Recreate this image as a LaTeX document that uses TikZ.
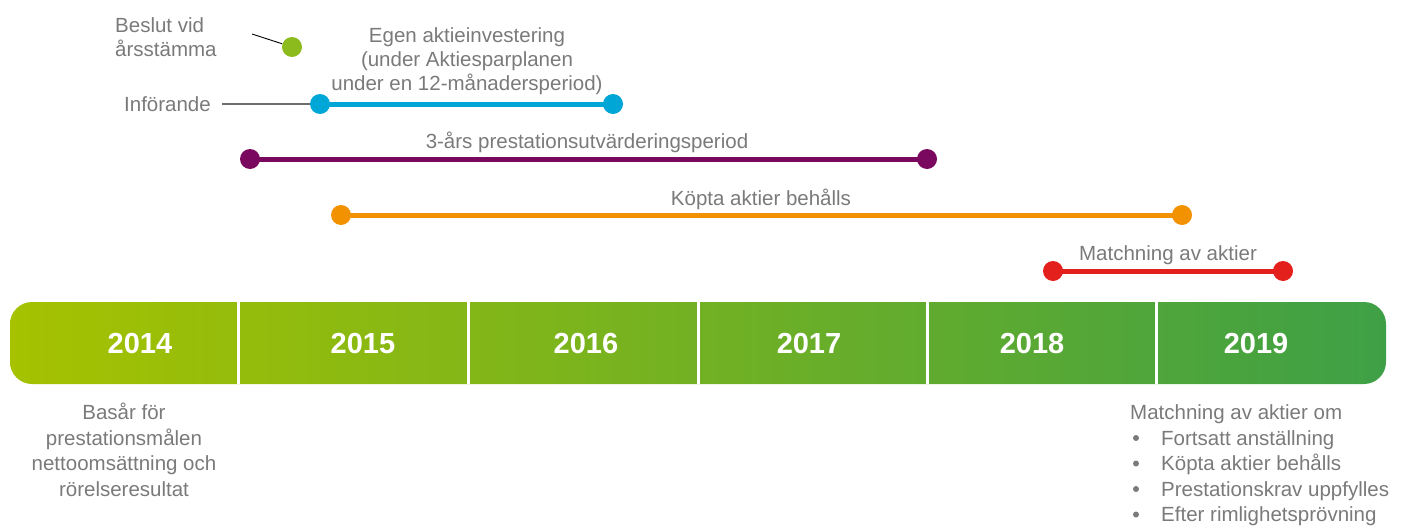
\documentclass[tikz,border=0pt]{standalone}
\usepackage{fontspec}
\setmainfont{Liberation Sans}
\definecolor{txtgray}{RGB}{122,122,122}
\definecolor{barleft}{RGB}{166,194,0}
\definecolor{barright}{RGB}{62,160,70}
\definecolor{cgreen}{RGB}{140,187,30}
\definecolor{cblue}{RGB}{0,166,214}
\definecolor{cpurple}{RGB}{122,8,94}
\definecolor{corange}{RGB}{243,146,0}
\definecolor{cred}{RGB}{227,32,27}
\definecolor{lgray}{RGB}{110,110,110}
\tikzset{
  lbl/.style={font=\fontsize{20.5}{25.5}\selectfont, text=txtgray, inner sep=0pt, anchor=base},
  yearlbl/.style={font=\fontsize{29}{34}\selectfont\bfseries, text=white, inner sep=0pt, anchor=base},
  dot/.style={circle, inner sep=0pt, minimum size=20pt},
  period/.style={line width=5pt},
  bullet/.style={circle, fill=txtgray, inner sep=0pt, minimum size=6pt},
}
\begin{document}
\begin{tikzpicture}[x=1pt,y=-1pt]
\useasboundingbox (0,0) rectangle (1406,525);
% timeline bar
\shade[left color=barleft, right color=barright, rounded corners=22pt] (10,302) rectangle (1386,384);
\foreach \xx in {238,468,698,927,1156}
  \draw[white, line width=3pt] (\xx,302) -- (\xx,384);
\node[yearlbl] (y14) at (140,353) {2014};
\node[yearlbl] (y15) at (363,353) {2015};
\node[yearlbl] (y16) at (586,353) {2016};
\node[yearlbl] (y17) at (809,353) {2017};
\node[yearlbl] (y18) at (1032,353) {2018};
\node[yearlbl] (y19) at (1256,353) {2019};

% Beslut vid arsstamma
\node[lbl, anchor=base west, align=left, font=\fontsize{20.5}{24}\selectfont] (beslut) at (115,56) {Beslut vid\\årsstämma};
\node[dot, fill=cgreen] (g1) at (292,47) {};
\coordinate (bstart) at (252,34);
\draw[black, line width=0.9pt] (bstart) -- (g1);

% Egen aktieinvestering
\node[dot, fill=cblue] (b1) at (320,104) {};
\node[dot, fill=cblue] (b2) at (613,104) {};
\draw[period, cblue] (b1.center) -- (b2.center);
\node[lbl, align=center, anchor=base, font=\fontsize{20.5}{24}\selectfont] (egen) at (467,90) {Egen aktieinvestering\\(under Aktiesparplanen\\under en 12-månadersperiod)};
\node[lbl, anchor=base east] (inf) at (211,111) {Införande};
\coordinate (infend) at (222,104);
\draw[lgray, line width=1.5pt] (infend) -- (b1.west);

% 3-ars
\node[dot, fill=cpurple] (p1) at (250,159) {};
\node[dot, fill=cpurple] (p2) at (927,159) {};
\draw[period, cpurple] (p1.center) -- (p2.center);
\node[lbl] (plbl) at (587,148) {3-års prestationsutvärderingsperiod};

% Kopta aktier behalls
\node[dot, fill=corange] (o1) at (341,215) {};
\node[dot, fill=corange] (o2) at (1182,215) {};
\draw[period, corange] (o1.center) -- (o2.center);
\node[lbl] (olbl) at (761,205) {Köpta aktier behålls};

% Matchning av aktier
\node[dot, fill=cred] (r1) at (1053,271) {};
\node[dot, fill=cred] (r2) at (1283,271) {};
\draw[period, cred] (r1.center) -- (r2.center);
\node[lbl] (rlbl) at (1168,260) {Matchning av aktier};

% bottom left
\node[lbl, align=center, anchor=base] (basar) at (124,496) {Basår för\\prestationsmålen\\nettoomsättning och\\rörelseresultat};

% bottom right
\node[lbl, anchor=base west] (mom) at (1130,419) {Matchning av aktier om};
\node[lbl, anchor=base west] (m1) at (1161,445) {Fortsatt anställning};
\node[lbl, anchor=base west] (m2) at (1161,470.5) {Köpta aktier behålls};
\node[lbl, anchor=base west] (m3) at (1161,496) {Prestationskrav uppfylles};
\node[lbl, anchor=base west] (m4) at (1161,521.5) {Efter rimlighetsprövning};
\node[bullet] (bu1) at (1136,438) {};
\node[bullet] (bu2) at (1136,463.5) {};
\node[bullet] (bu3) at (1136,489) {};
\node[bullet] (bu4) at (1136,514.5) {};
\end{tikzpicture}
\end{document}
